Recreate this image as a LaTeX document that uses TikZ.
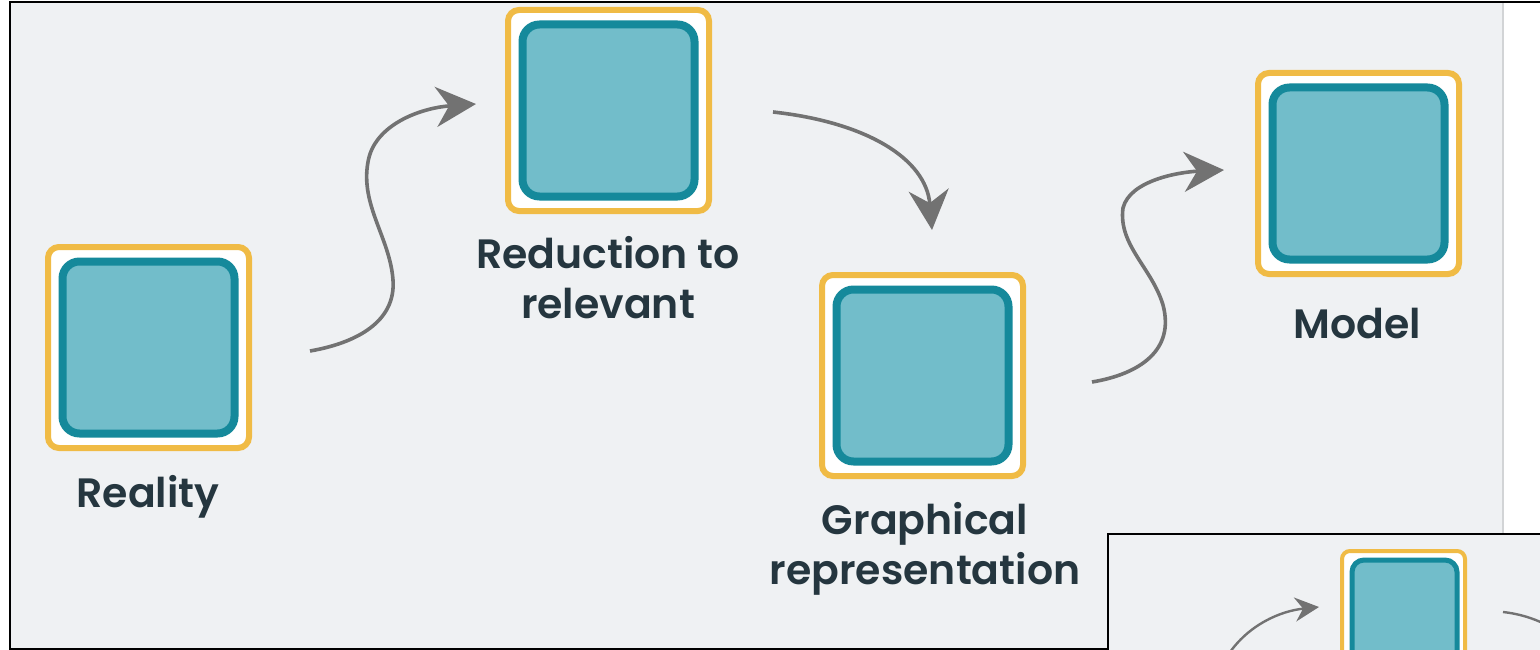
\documentclass[tikz,border=0pt]{standalone}
\usepackage{fontspec}
\setmainfont{Poppins}[BoldFont={Poppins SemiBold}]
\usetikzlibrary{arrows.meta}
\definecolor{bgpanel}{HTML}{EFF1F3}
\definecolor{frameyellow}{HTML}{F0BB45}
\definecolor{tealedge}{HTML}{15899B}
\definecolor{tealfill}{HTML}{72BDCA}
\definecolor{labelink}{HTML}{25363F}
\definecolor{arrowgray}{HTML}{727272}
\definecolor{divider}{HTML}{D2D4D6}
\tikzset{
  outerbox/.style={draw=frameyellow, line width=6pt, fill=white, rounded corners=11pt,
                   minimum width=201pt, minimum height=201pt, inner sep=0pt},
  innerbox/.style={draw=tealedge, line width=8pt, fill=tealfill, rounded corners=17pt,
                   minimum width=172pt, minimum height=172pt, inner sep=0pt},
  caption/.style={text=labelink, font=\bfseries\fontsize{41}{50}\selectfont, anchor=base, align=center, inner sep=0pt},
  flow/.style={draw=arrowgray, line width=3.6pt,
               -{Stealth[length=40pt, width=40pt, inset=13pt]}},
}
\begin{document}
\begin{tikzpicture}[x=1pt, y=-1pt]
\useasboundingbox (0,0) rectangle (1540,650);
\clip (0,0) rectangle (1540,650);

% page background and right margin
\fill[white] (0,0) rectangle (1540,650);
\fill[bgpanel] (11,3) rectangle (1503,648);
\draw[divider, line width=1.5pt] (1503,3) -- (1503,648);
\draw[black, line width=2pt] (10,2) rectangle (1560,648.5);

% the four stages
\node[outerbox] (reality) at (148.5,347.5) {};
\node[innerbox] (realityin) at (reality) {};
\node[outerbox] (reduction) at (608.5,110.5) {};
\node[innerbox] (reductionin) at (reduction) {};
\node[outerbox] (graphical) at (922.5,375.5) {};
\node[innerbox] (graphicalin) at (graphical) {};
\node[outerbox] (model) at (1358.5,173.5) {};
\node[innerbox] (modelin) at (model) {};

% captions (base anchor sits on the last line)
\node[caption] (lreality) at (148,507) {Reality};
\node[caption] (lreduction) at (608,318) {Reduction to\\relevant};
\node[caption] (lgraphical) at (925,584) {Graphical\\representation};
\node[caption] (lmodel) at (1357,338) {Model};

% free ends of the connectors
\coordinate (a1s) at (310,351);
\coordinate (a1e) at (476,104);
\coordinate (a2s) at (773,112);
\coordinate (a2e) at (932,230);
\coordinate (a3s) at (1092,382);
\coordinate (a3e) at (1224,170);

\draw[flow] (a1s) .. controls (356,343) and (396,322) .. (393,280)
            .. controls (390,238) and (360,205) .. (368,162)
            .. controls (374,125) and (420,108) .. (a1e);
\draw[flow] (a2s) .. controls (865,122) and (926,158) .. (a2e);
\draw[flow] (a3s) .. controls (1140,374) and (1175,350) .. (1163,305)
            .. controls (1152,268) and (1118,245) .. (1123,208)
            .. controls (1130,180) and (1180,172) .. (a3e);

% small preview panel in the lower right corner
\fill[bgpanel] (1108,534) rectangle (1545,655);
\draw[black, line width=2pt] (1108,534) -- (1108,655);
\draw[black, line width=2pt] (1107,534) -- (1545,534);
\node[draw=frameyellow, line width=4pt, fill=white, rounded corners=8pt,
      minimum width=123pt, minimum height=130pt, inner sep=0pt, anchor=north west]
      (pbox) at (1340,549) {};
\node[draw=tealedge, line width=5pt, fill=tealfill, rounded corners=12pt,
      minimum width=105pt, minimum height=120pt, inner sep=0pt, anchor=north west]
      (pboxin) at (1349.5,557.5) {};
\coordinate (p1s) at (1228,655);
\coordinate (p1e) at (1319,607);
\coordinate (p2s) at (1503,612);
\coordinate (p2e) at (1545,624);
\draw[draw=arrowgray, line width=2.4pt, -{Stealth[length=24pt, width=24pt, inset=8pt]}]
  (p1s) .. controls (1248,625) and (1280,611) .. (p1e);
\draw[draw=arrowgray, line width=2.4pt] (p2s) .. controls (1520,614) and (1532,618) .. (p2e);
\end{tikzpicture}
\end{document}
